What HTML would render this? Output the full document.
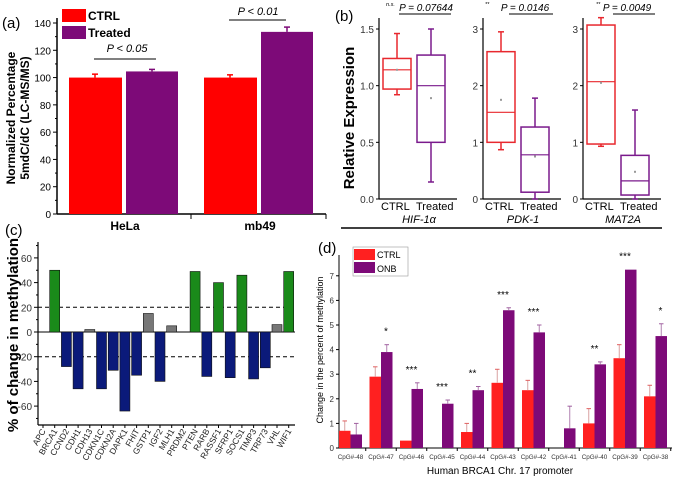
<!DOCTYPE html>
<html><head><meta charset="utf-8"><style>
body{margin:0;background:#fff}
svg{display:block;font-family:"Liberation Sans",Arial,sans-serif}
</style></head><body>
<svg id="s" width="675" height="481" viewBox="0 0 675 481"></svg>
<script>
// Panel a data
const aCats=["HeLa","mb49"];
const aCtrl=[100,100];
const aTreat=[104.5,133.5];
const aCtrlErr=[2.5,2];
const aTreatErr=[1.5,3.5];
const aTicks=[0,20,40,60,80,100,120,140];
// Panel b data [lowWhisker, q1, median, q3, highWhisker, mean]
const bGenes=["HIF-1α","PDK-1","MAT2A"];
const bCtrl=[[0.92,0.97,1.14,1.24,1.46,1.14],[0.87,1.0,1.53,2.6,2.95,1.75],[0.93,0.97,2.07,3.07,3.2,2.05]];
const bTreat=[[0.15,0.5,1.0,1.27,1.5,0.89],[0.0,0.12,0.78,1.27,1.78,0.75],[0.0,0.07,0.32,0.77,1.57,0.48]];
const bP=["P = 0.07644","P = 0.0146","P = 0.0049"];
const bPre=["n.s.","**","**"];
// Panel c data
const cGenes=["APC","BRCA1","CCND2","CDH1","CDH13","CDKN1C","CDKN2A","DAPK1","FHIT","GSTP1","IGF2","MLH1","PRDM2","PTEN","RARB","RASSF1","SFRP1","SOCS1","TIMP3","TRP73","VHL","WIF1"];
const cVals=[0,50,-28,-46,2,-46,-31,-64,-35,15,-40,5,0,49,-36,40,-37,46,-38,-29,6,49];
const cTicks=[-60,-40,-20,0,20,40,60];
// Panel d data
const dCats=["CpG#-48","CpG#-47","CpG#-46","CpG#-45","CpG#-44","CpG#-43","CpG#-42","CpG#-41","CpG#-40","CpG#-39","CpG#-38"];
const dCtrl=[0.7,2.9,0.3,0,0.65,2.65,2.35,0,1.0,3.65,2.1];
const dOnb=[0.55,3.9,2.4,1.8,2.35,5.6,4.7,0.8,3.4,7.25,4.55];
const dCtrlTop=[1.1,3.3,0,0,1.0,3.2,2.75,0,1.6,4.2,2.55];
const dOnbTop=[1.0,4.2,2.65,1.95,2.5,5.7,5.0,1.7,3.5,0,5.05];
const dStars=["","*","***","***","**","***","***","","**","***","*"];
const dTicks=[0,1,2,3,4,5,6,7];

const S=document.getElementById('s');const NS="http://www.w3.org/2000/svg";
function el(t,a,txt){const e=document.createElementNS(NS,t);for(const k in a)e.setAttribute(k,a[k]);if(txt!=null)e.textContent=txt;S.appendChild(e);return e;}
function line(x1,y1,x2,y2,c,w,d){return el('line',{x1,y1,x2,y2,stroke:c||'#000','stroke-width':w||1,'stroke-dasharray':d||'none'});}

// ===== Panel A =====
const aY=v=>214-v*(191/140);
const aX0=[69,204];
line(57,18,57,214,'#000',1.5);line(57,214,326,214,'#000',1.5);
aTicks.forEach(t=>{line(53,aY(t),57,aY(t));const tx=el('text',{x:51,y:aY(t)+4,'font-size':10,'text-anchor':'end'},t);
});
for(let v=10;v<140;v+=20)line(55,aY(v),57,aY(v));
line(191,214,191,219);line(326,214,326,219);
aCats.forEach((c,i)=>{
 const x=aX0[i];
 let r=el('rect',{x:x,y:aY(aCtrl[i]),width:53,height:214-aY(aCtrl[i]),fill:'#ff0000'});
 
 r=el('rect',{x:x+57,y:aY(aTreat[i]),width:52,height:214-aY(aTreat[i]),fill:'#7d0a78'});
 
 line(x+26,aY(aCtrl[i]),x+26,aY(aCtrl[i]+aCtrlErr[i]),'#ff0000',1.5);line(x+23,aY(aCtrl[i]+aCtrlErr[i]),x+29,aY(aCtrl[i]+aCtrlErr[i]),'#ff0000',1.5);
 line(x+83,aY(aTreat[i]),x+83,aY(aTreat[i]+aTreatErr[i]),'#7d0a78',1.5);line(x+80,aY(aTreat[i]+aTreatErr[i]),x+86,aY(aTreat[i]+aTreatErr[i]),'#7d0a78',1.5);
 const t=el('text',{x:x+56,y:230,'font-size':12,'font-weight':'bold','text-anchor':'middle'},c);
 
});
line(94,59,156,59);el('text',{x:127,y:52,'font-size':11,'font-style':'italic','text-anchor':'middle'},'P < 0.05');
line(229,20,286,20);el('text',{x:258,y:15,'font-size':11,'font-style':'italic','text-anchor':'middle'},'P < 0.01');
el('text',{x:2,y:28,'font-size':15},'(a)');
el('rect',{x:62,y:9,width:24,height:13,fill:'#ff0000'});el('text',{x:88,y:20,'font-size':12,'font-weight':'bold'},'CTRL');
el('rect',{x:62,y:26,width:24,height:13,fill:'#7d0a78'});el('text',{x:88,y:37,'font-size':12,'font-weight':'bold'},'Treated');
el('text',{transform:'translate(15,118) rotate(-90)','font-size':12,'font-weight':'bold','text-anchor':'middle'},'Normalized Percentage');
el('text',{transform:'translate(29,118) rotate(-90)','font-size':12,'font-weight':'bold','text-anchor':'middle'},'5mdC/dC (LC-MS/MS)');

// ===== Panel B =====
const bAx=[379,483,583];const bTk=[[0,0.5,1.0,1.5],[0,1,2,3],[0,1,2,3]];
const bPreX=[7,2,13];const bPX=[47,42,44];const bLine=[[20,72],[26,70],[30,72]];
const bY=(v,i)=>199-v*((199-29)/(i==0?1.5:3)) ;
bGenes.forEach((g,i)=>{
 const ax=bAx[i];
 line(ax,18,ax,199,'#000',1.2);line(ax,199,ax+78,199,'#000',1.2);
 bTk[i].forEach(t=>{line(ax-3,bY(t,i),ax,bY(t,i));el('text',{x:ax-5,y:bY(t,i)+4,'font-size':10,'text-anchor':'end','fill':'#333'},i==0?t.toFixed(1):t);});
 [[bCtrl[i],'#e8282e',ax+4],[bTreat[i],'#7a1a8c',ax+38]].forEach(([d,c,x],j)=>{
  const w=28,m=x+w/2;
  line(m,bY(d[0],i),m,bY(d[1],i),c,1.5);line(m,bY(d[3],i),m,bY(d[4],i),c,1.5);
  line(m-3,bY(d[0],i),m+3,bY(d[0],i),c,1.5);line(m-3,bY(d[4],i),m+3,bY(d[4],i),c,1.5);
  const r=el('rect',{x:x,y:bY(d[3],i),width:w,height:bY(d[1],i)-bY(d[3],i),fill:'none',stroke:c,'stroke-width':1.5});
  
  line(x,bY(d[2],i),x+w,bY(d[2],i),c,1.2);
  el('rect',{x:m-1,y:bY(d[5],i)-1,width:2,height:2,fill:'#999'});
 });
 el('text',{x:ax+2,y:210,'font-size':11},'CTRL');el('text',{x:ax+37,y:210,'font-size':11},'Treated');
 el('text',{x:ax+40,y:223,'font-size':11,'font-style':'italic','text-anchor':'middle'},g);
 el('text',{x:ax+bPreX[i],y:6,'font-size':5.5,'font-style':'italic'},bPre[i]);
 line(ax+bLine[i][0],14,ax+bLine[i][1],14);
 el('text',{x:ax+bPX[i],y:11,'font-size':10,'font-style':'italic','text-anchor':'middle'},bP[i]);
});
line(341,228,662,228,'#000',1.5);
el('text',{x:335,y:21,'font-size':15},'(b)');
el('text',{transform:'translate(354,118) rotate(-90)','font-size':15,'font-weight':'bold','text-anchor':'middle'},'Relative Expression');

// ===== Panel C =====
const cY=v=>332-v*(24.7/20);
const cX=i=>43+i*11.7;
line(38,242,38,425,'#000',1.2);line(38,425,295,425,'#000',1.2);
cTicks.forEach(t=>{line(34,cY(t),38,cY(t));el('text',{x:32,y:cY(t)+4,'font-size':10,'text-anchor':'end',fill:'#333'},t);});
for(let v=-70;v<=70;v+=20)line(36,cY(v),38,cY(v));
line(38,332,295,332,'#000',1);
line(38,cY(20),295,cY(20),'#000',1,'4,3');line(38,cY(-20),295,cY(-20),'#000',1,'4,3');
cGenes.forEach((g,i)=>{
 const v=cVals[i];const x=cX(i);
 const col=v>=20?'#1a8a1a':(v<=-20?'#0b1a7a':'#777');
 if(v!==0){const r=el('rect',{x:x-5,y:Math.min(cY(v),332),width:10,height:Math.abs(cY(v)-332),fill:col,stroke:'#111','stroke-width':0.6});
 }
 line(x,425,x,428);
 el('text',{transform:`translate(${x+3},431) rotate(-60)`,'font-size':8.5,'text-anchor':'end',fill:'#222'},g);
});
el('text',{x:5,y:235,'font-size':15},'(c)');
el('text',{transform:'translate(18,335) rotate(-90)','font-size':15,'font-weight':'bold','text-anchor':'middle'},'% of change in methylation');

// ===== Panel D =====
const dY=v=>448-v*24.6;
const dX=i=>350.5+i*30.5;
line(339,255,339,448,'#000',1);line(339,448,672,448,'#000',1);
dTicks.forEach(t=>{line(336,dY(t),339,dY(t));el('text',{x:334,y:dY(t)+3,'font-size':8,'text-anchor':'end',fill:'#333'},t);});
dCats.forEach((c,i)=>{
 const x=dX(i);
 if(dCtrl[i]>0){const r=el('rect',{x:x-11.5,y:dY(dCtrl[i]),width:11.5,height:448-dY(dCtrl[i]),fill:'#ff2020'});
 }
 const r2=el('rect',{x:x,y:dY(dOnb[i]),width:11.5,height:448-dY(dOnb[i]),fill:'#7d0a78'});
 
 if(dCtrlTop[i]>dCtrl[i]){line(x-5.75,dY(dCtrl[i]),x-5.75,dY(dCtrlTop[i]),'#d9a0a0',1);line(x-8,dY(dCtrlTop[i]),x-3.5,dY(dCtrlTop[i]),'#e06060',1);}
 if(dOnbTop[i]>dOnb[i]){line(x+5.75,dY(dOnb[i]),x+5.75,dY(dOnbTop[i]),'#b080b0',1);line(x+3.5,dY(dOnbTop[i]),x+8,dY(dOnbTop[i]),'#a060a0',1);}
 line(x+15.25,448,x+15.25,451);
 el('text',{x:x,y:459,'font-size':6.3,'text-anchor':'middle',fill:'#333'},c);
 if(dStars[i]){const top=Math.max(dOnb[i],dOnbTop[i]);el('text',{x:x+(dStars[i].length==1?5:0),y:dY(top)-10,'font-size':10,'text-anchor':'middle'},dStars[i]);}
});
el('rect',{x:353,y:247,width:55,height:29,fill:'#fff',stroke:'#999','stroke-width':0.6});
el('rect',{x:354,y:249,width:21,height:11,fill:'#ff2020'});el('text',{x:377,y:258,'font-size':9},'CTRL');
el('rect',{x:354,y:262,width:21,height:11,fill:'#7d0a78'});el('text',{x:377,y:272,'font-size':9},'ONB');
el('text',{x:500,y:474,'font-size':10,'text-anchor':'middle'},'Human BRCA1 Chr. 17 promoter');
el('text',{transform:'translate(323,350) rotate(-90)','font-size':9,'text-anchor':'middle'},'Change in the percent of methylation');
el('text',{x:318,y:253,'font-size':15},'(d)');
</script>
</body></html>
